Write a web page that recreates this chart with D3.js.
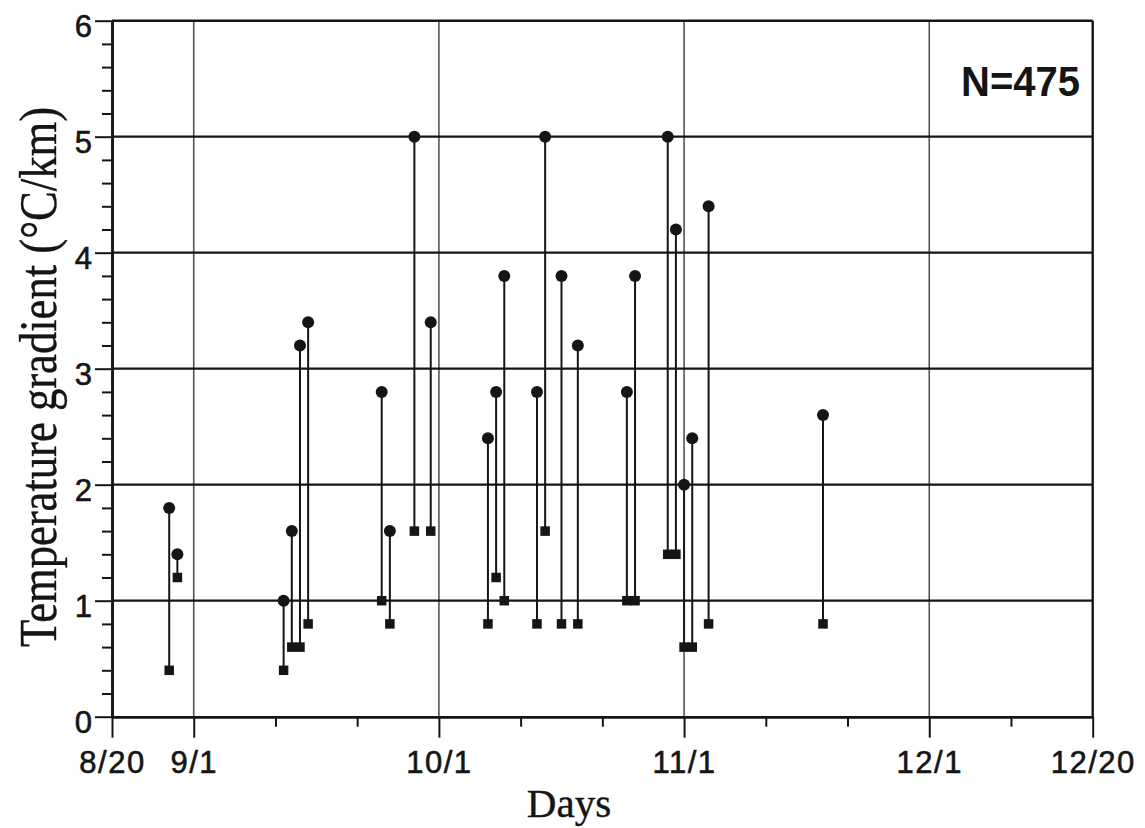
<!DOCTYPE html>
<html>
<head>
<meta charset="utf-8">
<script src="https://cdn.jsdelivr.net/npm/d3@7"></script>
<style>
  html, body { margin: 0; padding: 0; background: #fff; }
  svg { display: block; }
</style>
</head>
<body>
<svg id="chart" width="1145" height="828"></svg>
<script>
// ---- data (day index: 0 = 8/20, months drawn as 30-day spans) ----
const days  = [7, 8, 21, 22, 23, 24, 33, 34, 37, 39, 46, 47, 48, 52, 53, 55, 57, 63, 64, 68, 69, 70, 71, 73, 87];
const upper = [1.8, 1.4, 1.0, 1.6, 3.2, 3.4, 2.8, 1.6, 5.0, 3.4, 2.4, 2.8, 3.8, 2.8, 5.0, 3.8, 3.2, 2.8, 3.8, 5.0, 4.2, 2.0, 2.4, 4.4, 2.6];
const lower = [0.4, 1.2, 0.4, 0.6, 0.6, 0.8, 1.0, 0.8, 1.6, 1.6, 0.8, 1.2, 1.0, 0.8, 1.6, 0.8, 0.8, 1.0, 1.0, 1.4, 1.4, 0.6, 0.6, 0.8, 0.8];

const xMajorTicks  = [0, 10, 40, 70, 100, 120];
const xMajorLabels = ["8/20", "9/1", "10/1", "11/1", "12/1", "12/20"];
const xMinorTicks  = [20, 30, 50, 60, 80, 90, 110];
const yMajorTicks  = [0, 1, 2, 3, 4, 5, 6];
const yMinorTicks  = [0.2,0.4,0.6,0.8,1.2,1.4,1.6,1.8,2.2,2.4,2.6,2.8,3.2,3.4,3.6,3.8,4.2,4.4,4.6,4.8,5.2,5.4,5.6,5.8];
const xGridDays    = [10, 40, 70, 100];
const yGridValues  = [1, 2, 3, 4, 5];

const xTitle = "Days";
const yTitle = "Temperature gradient (°C/km)";
const note   = "N=475";

// ---- layout ----
const svg = d3.select("#chart");
const L = 112, R = 1092.7, T = 20.7, B = 716.7;
const x = d3.scaleLinear().domain([0, 120]).range([L, R]);
const y = d3.scaleLinear().domain([0, 6]).range([B, T]);
const ink = "#151515";
const sans = "'Liberation Sans', Arial, sans-serif";
const serif = "'Liberation Serif', 'Times New Roman', serif";

const data = days.map((d, i) => ({ day: d, hi: upper[i], lo: lower[i] }));

// vertical grid (thin grey)
svg.append("g").selectAll("line").data(xGridDays).join("line")
  .attr("x1", d => x(d)).attr("x2", d => x(d))
  .attr("y1", y(6)).attr("y2", y(0))
  .attr("stroke", "#555").attr("stroke-width", 1.6);

// horizontal grid (black)
svg.append("g").selectAll("line").data(yGridValues).join("line")
  .attr("x1", x(0)).attr("x2", x(120))
  .attr("y1", d => y(d)).attr("y2", d => y(d))
  .attr("stroke", ink).attr("stroke-width", 2.2);

// frame top and right
svg.append("line").attr("x1", x(0)).attr("x2", x(120)).attr("y1", y(6)).attr("y2", y(6))
  .attr("stroke", ink).attr("stroke-width", 2.4);
svg.append("line").attr("x1", x(120)).attr("x2", x(120)).attr("y1", y(6)).attr("y2", y(0))
  .attr("stroke", ink).attr("stroke-width", 2.4);

// ---- axes ----
function styleAxis(g) {
  g.select(".domain").attr("stroke", ink).attr("stroke-width", 2.6);
  g.selectAll(".tick line").attr("stroke", ink).attr("stroke-width", 2);
  g.selectAll(".tick text").attr("fill", ink).attr("stroke", ink).attr("stroke-width", 0.6)
    .style("font-family", sans).style("font-size", "31px");
}

// x minor
svg.append("g").attr("transform", `translate(0,${B})`)
  .call(d3.axisBottom(x).tickValues(xMinorTicks).tickSize(10).tickSizeOuter(0).tickFormat(""))
  .call(styleAxis);
// x major
const gx = svg.append("g").attr("transform", `translate(0,${B})`)
  .call(d3.axisBottom(x).tickValues(xMajorTicks).tickSize(21).tickSizeOuter(0)
        .tickFormat((d, i) => xMajorLabels[i]))
  .call(styleAxis);
gx.selectAll(".tick text").attr("y", 56).attr("dy", 0).style("letter-spacing", "1.5px");

// y minor
svg.append("g").attr("transform", `translate(${L},0)`)
  .call(d3.axisLeft(y).tickValues(yMinorTicks).tickSize(10).tickSizeOuter(0).tickFormat(""))
  .call(styleAxis);
// y major
const gy = svg.append("g").attr("transform", `translate(${L},0)`)
  .call(d3.axisLeft(y).tickValues(yMajorTicks).tickSize(17).tickSizeOuter(0).tickFormat(d3.format("d")))
  .call(styleAxis);
gy.selectAll(".tick text").attr("x", -20).attr("dy", 0).attr("y", 16);

// ---- stems and markers ----
const marks = svg.append("g");
marks.selectAll("line.stem").data(data).join("line").attr("class", "stem")
  .attr("x1", d => x(d.day)).attr("x2", d => x(d.day))
  .attr("y1", d => y(d.lo)).attr("y2", d => y(d.hi))
  .attr("stroke", ink).attr("stroke-width", 2);

const sq = 9.5;
marks.selectAll("rect").data(data).join("rect")
  .attr("x", d => x(d.day) - sq / 2).attr("y", d => y(d.lo) - sq / 2)
  .attr("width", sq).attr("height", sq).attr("fill", ink);

marks.selectAll("circle").data(data).join("circle")
  .attr("cx", d => x(d.day)).attr("cy", d => y(d.hi)).attr("r", 6).attr("fill", ink);

// ---- texts ----
svg.append("text").attr("x", 961).attr("y", 96)
  .attr("textLength", 119).attr("lengthAdjust", "spacingAndGlyphs")
  .style("font-family", sans).style("font-weight", "bold").style("font-size", "42px")
  .attr("fill", ink).text(note);

svg.append("text").attr("x", 569).attr("y", 817).attr("text-anchor", "middle")
  .attr("stroke", ink).attr("stroke-width", 0.4)
  .style("font-family", serif).style("font-size", "41px").attr("fill", ink).text(xTitle);

svg.append("text").attr("transform", "translate(56,377) rotate(-90)")
  .attr("x", -270).attr("y", 0)
  .attr("textLength", 540).attr("lengthAdjust", "spacingAndGlyphs")
  .attr("stroke", ink).attr("stroke-width", 0.4)
  .style("font-family", serif).style("font-size", "52px").attr("fill", ink).text(yTitle);
</script>
</body>
</html>
